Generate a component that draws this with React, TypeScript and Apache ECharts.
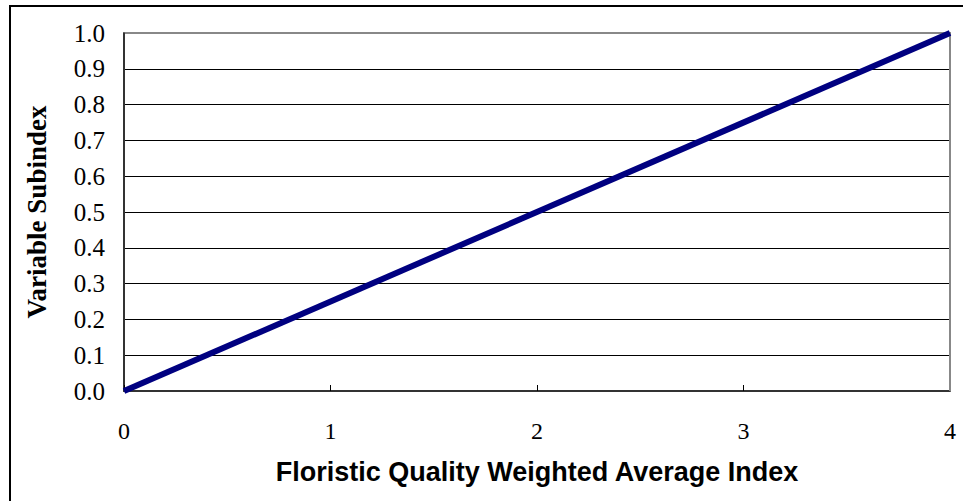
import React, { useEffect, useRef } from "react";
import * as echarts from "echarts";

const xTicks = [0, 1, 2, 3, 4];
const yTicks = [0, 0.1, 0.2, 0.3, 0.4, 0.5, 0.6, 0.7, 0.8, 0.9, 1.0];
const lineX = [0, 4];
const lineY = [0, 1];
const xTitle = "Floristic Quality Weighted Average Index";
const yTitle = "Variable Subindex";

export default function App() {
  const ref = useRef<HTMLDivElement>(null);
  useEffect(() => {
    const chart = echarts.init(ref.current!, null, { renderer: "svg" });
    chart.setOption({
      animation: false,
      backgroundColor: "#ffffff",
      grid: { left: 124, top: 33, right: 13, bottom: 110, containLabel: false },
      xAxis: {
        type: "value",
        min: xTicks[0],
        max: xTicks[xTicks.length - 1],
        interval: 1,
        axisLine: { show: true, onZero: false, lineStyle: { color: "#333", width: 2 } },
        axisTick: { show: true, inside: true, length: 6, lineStyle: { color: "#000", width: 1 } },
        axisLabel: { fontFamily: "Liberation Serif", fontSize: 24, color: "#000", margin: 28 },
        splitLine: { show: false },
        name: xTitle,
        nameLocation: "middle",
        nameGap: 67,
        nameTextStyle: { fontFamily: "Liberation Sans", fontWeight: "bold", fontSize: 27, color: "#000" },
      },
      yAxis: {
        type: "value",
        min: yTicks[0],
        max: yTicks[yTicks.length - 1],
        interval: 0.1,
        axisLine: { show: true, onZero: false, lineStyle: { color: "#333", width: 2 } },
        axisTick: { show: false },
        axisLabel: {
          fontFamily: "Liberation Serif",
          fontSize: 25,
          color: "#000",
          margin: 19,
          formatter: (v: number) => v.toFixed(1),
        },
        splitLine: { show: true, lineStyle: { color: "#000", width: 1 } },
        name: yTitle,
        nameLocation: "middle",
        nameGap: 74,
        nameTextStyle: { fontFamily: "Liberation Serif", fontWeight: "bold", fontSize: 27, color: "#000" },
      },
      graphic: [
        {
          type: "rect",
          shape: { x: 10, y: 6, width: 1100, height: 1000 },
          style: { fill: "none", stroke: "#000", lineWidth: 2 },
          silent: true,
        },
        {
          type: "polyline",
          shape: { points: [[125, 33], [950, 33], [950, 391]] },
          style: { fill: "none", stroke: "#888", lineWidth: 2 },
          silent: true,
          z: 1,
        },
      ],
      series: [
        {
          type: "line",
          data: lineX.map((x, i) => [x, lineY[i]]),
          showSymbol: false,
          lineStyle: { color: "#000080", width: 6 },
          clip: false,
          z: 5,
        },
      ],
    });
    return () => chart.dispose();
  }, []);
  return (
    <div
      ref={ref}
      style={{ position: "fixed", left: 0, top: 0, width: 963, height: 501 }}
    />
  );
}
